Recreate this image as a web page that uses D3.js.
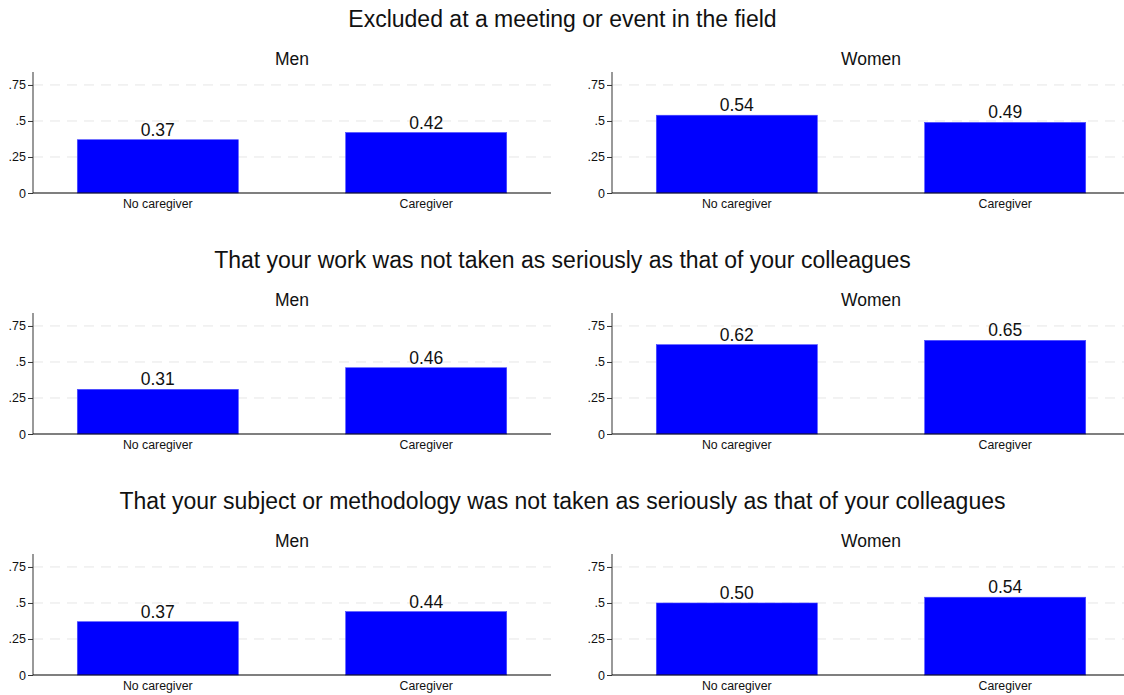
<!DOCTYPE html>
<html><head><meta charset="utf-8">
<script src="https://cdn.jsdelivr.net/npm/d3@7"></script>
<style>body{margin:0;background:#fff}svg{display:block}text{font-family:"Liberation Sans",Arial,sans-serif}</style>
</head><body><svg id="c" width="1124" height="695"></svg>
<script>
const titles = [
  "Excluded at a meeting or event in the field",
  "That your work was not taken as seriously as that of your colleagues",
  "That your subject or methodology was not taken as seriously as that of your colleagues"
];
const groups = ["Men", "Women"];
const categories = ["No caregiver", "Caregiver"];
const menValues = [[0.37, 0.42], [0.31, 0.46], [0.37, 0.44]];
const womenValues = [[0.54, 0.49], [0.62, 0.65], [0.50, 0.54]];
const yTicks = [0, 0.25, 0.5, 0.75];
const yTickLabels = ["0", ".25", ".5", ".75"];

const svg = d3.select("#c");
const rowStep = 241;
const panelX = [33, 612];
const panelW = 518;
const plotTop = 72, plotBottom = 193;
const y = d3.scaleLinear().domain([0, 0.84]).range([plotBottom, plotTop]);

titles.forEach((t, r) => {
  const g = svg.append("g").attr("transform", `translate(0,${r * rowStep})`);
  g.append("text").attr("x", 562.5).attr("y", 27).attr("text-anchor", "middle")
    .attr("font-size", 23).attr("fill", "#111").text(t);
  groups.forEach((gr, i) => {
    const vals = i === 0 ? menValues[r] : womenValues[r];
    const p = g.append("g").attr("transform", `translate(${panelX[i]},0)`);
    const x = d3.scaleBand().domain(categories).range([0, panelW]).paddingInner(0.4).paddingOuter(0.165);
    p.append("text").attr("x", panelW / 2).attr("y", 65).attr("text-anchor", "middle")
      .attr("font-size", 17.5).attr("fill", "#111").text(gr);
    p.selectAll("line.grid").data(yTicks.filter(d => d > 0)).enter().append("line")
      .attr("x1", 0).attr("x2", panelW).attr("y1", d => y(d)).attr("y2", d => y(d))
      .attr("stroke", "#e6e6e6").attr("stroke-width", 1).attr("stroke-dasharray", "10,7");
    p.selectAll("rect").data(vals).enter().append("rect")
      .attr("x", (d, j) => x(categories[j])).attr("width", x.bandwidth())
      .attr("y", d => y(d)).attr("height", d => y(0) - y(d))
      .attr("fill", "#0000ff").attr("stroke", "#4a4aff").attr("stroke-width", 0.6);
    p.selectAll("text.val").data(vals).enter().append("text")
      .attr("x", (d, j) => x(categories[j]) + x.bandwidth() / 2).attr("y", d => y(d) - 4)
      .attr("text-anchor", "middle").attr("font-size", 17.5).attr("fill", "#111")
      .text(d => d.toFixed(2));
    const ya = d3.axisLeft(y).tickValues(yTicks).tickSize(5).tickPadding(2)
      .tickFormat((d, k) => yTickLabels[k]);
    const yg = p.append("g").call(ya);
    yg.select(".domain").attr("d", `M0,${plotTop}V${plotBottom}`).attr("stroke", "#777").attr("stroke-width", 1.5);
    yg.selectAll(".tick line").attr("stroke", "#333");
    yg.selectAll(".tick text").attr("font-size", 12.5).attr("fill", "#111").style("font-family", '"Liberation Sans",Arial,sans-serif');
    const xa = d3.axisBottom(x).tickSize(0).tickPadding(6);
    const xg = p.append("g").attr("transform", `translate(0,${plotBottom})`).call(xa);
    xg.select(".domain").attr("d", `M0,0H${panelW}`).attr("stroke", "#000").attr("stroke-width", 1.2);
    xg.selectAll(".tick text").attr("font-size", 12.3).attr("fill", "#111").style("font-family", '"Liberation Sans",Arial,sans-serif');
  });
});
</script></body></html>
